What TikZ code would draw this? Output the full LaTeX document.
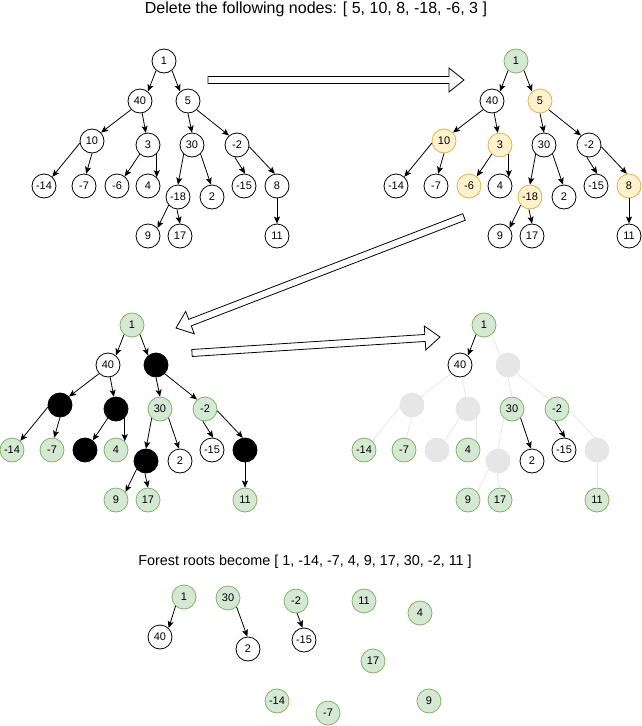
\documentclass[tikz,border=0pt]{standalone}
\usepackage{fontspec}
\setmainfont{Liberation Sans}
\usepackage{xcolor}
\usepackage{tikz}
\usetikzlibrary{arrows.meta, calc}
\definecolor{keepcolor}{HTML}{D5E8D4}
\definecolor{keepline}{HTML}{82B366}
\definecolor{delcolor}{HTML}{FFF2CC}
\definecolor{delline}{HTML}{D6B656}
\definecolor{gonecolor}{HTML}{E6E6E6}

% hollow block arrow from #1 (tail) to #2 (tip)
\newcommand{\fatarrow}[2]{%
    \coordinate (base) at ($(#2)!15pt!(#1)$);
    \draw[bigarrow] ($(#1)!3.5pt!90:(#2)$) -- ($(base)!3.5pt!90:(#2)$) -- ($(base)!12pt!90:(#2)$) -- (#2)
        -- ($(base)!12pt!-90:(#2)$) -- ($(base)!3.5pt!-90:(#2)$) -- ($(#1)!3.5pt!-90:(#2)$) -- cycle;
}

\begin{document}
\begin{tikzpicture}[
    x=1pt, y=-1pt,
    tnode/.style={circle, draw, line width=0.8pt, fill=white, minimum size=24pt, inner sep=0pt, font=\fontsize{11}{13}\selectfont},
    keep/.style={tnode, draw=keepline, fill=keepcolor},
    del/.style={tnode, draw=delline, fill=delcolor},
    cut/.style={tnode, draw=black, fill=black},
    gone/.style={tnode, draw=gonecolor, fill=gonecolor},
    link/.style={line width=0.8pt, -{Stealth[length=7pt, width=6pt, inset=1.5pt]}},
    ghost/.style={line width=0.8pt, draw=gonecolor},
    bigarrow/.style={draw, line width=0.8pt, fill=white, line join=miter}
]
    \useasboundingbox (0,0) rectangle (641,726);

    % Headings
    \node[font=\fontsize{16}{19}\selectfont] (title) at (316,9) {Delete the following nodes: [ 5, 10, 8, -18, -6, 3 ]};
    \node[font=\fontsize{14.4}{17}\selectfont] (result) at (305,562) {Forest roots become [ 1, -14, -7, 4, 9, 17, 30, -2, 11 ]};

    % Tree before deletion
    \node[tnode] (a1) at (164,61) {1};
    \node[tnode] (a40) at (140,101) {40};
    \node[tnode] (a5) at (188,101) {5};
    \node[tnode] (a10) at (92,141) {10};
    \node[tnode] (a3) at (148,145) {3};
    \node[tnode] (a30) at (192,145) {30};
    \node[tnode] (am2) at (237,145) {-2};
    \node[tnode] (am14) at (44,186) {-14};
    \node[tnode] (am7) at (84,186) {-7};
    \node[tnode] (am6) at (117,186) {-6};
    \node[tnode] (a4) at (148,186) {4};
    \node[tnode] (am18) at (178,197) {-18};
    \node[tnode] (a2) at (212,197) {2};
    \node[tnode] (am15) at (244,186) {-15};
    \node[tnode] (a8) at (277,186) {8};
    \node[tnode] (a9) at (148,236) {9};
    \node[tnode] (a17) at (180,236) {17};
    \node[tnode] (a11) at (277,236) {11};

    \draw[link] (a1.-130) -- (a40.50);
    \draw[link] (a1.-50) -- (a5.130);
    \draw[link] (a40.-136) -- (a10.43);
    \draw[link] (a40.-80) -- (a3.100);
    \draw[link] (a5.-90) -- (a30.90);
    \draw[link] (a5.-45) -- (am2.130);
    \draw[link] (a10.-170) -- (am14.48);
    \draw[link] (a10.-90) -- (am7.80);
    \draw[link] (a3.-132) -- (am6.51);
    \draw[link] (a3.-45) -- (a4.45);
    \draw[link] (a30.-132) -- (am18.90);
    \draw[link] (a30.-46) -- (a2.95);
    \draw[link] (am2.-100) -- (am15.85);
    \draw[link] (am2.-8) -- (a8.100);
    \draw[link] (am18.-139) -- (a9.40);
    \draw[link] (am18.-95) -- (a17.90);
    \draw[link] (a8.-90) -- (a11.90);

    % Marked nodes
    \begin{scope}[shift={(352,0)}]
    \node[keep] (b1) at (164,61) {1};
    \node[tnode] (b40) at (140,101) {40};
    \node[del] (b5) at (188,101) {5};
    \node[del] (b10) at (92,141) {10};
    \node[del] (b3) at (148,145) {3};
    \node[tnode] (b30) at (192,145) {30};
    \node[tnode] (bm2) at (237,145) {-2};
    \node[tnode] (bm14) at (44,186) {-14};
    \node[tnode] (bm7) at (84,186) {-7};
    \node[del] (bm6) at (117,186) {-6};
    \node[tnode] (b4) at (148,186) {4};
    \node[del] (bm18) at (178,197) {-18};
    \node[tnode] (b2) at (212,197) {2};
    \node[tnode] (bm15) at (244,186) {-15};
    \node[del] (b8) at (277,186) {8};
    \node[tnode] (b9) at (148,236) {9};
    \node[tnode] (b17) at (180,236) {17};
    \node[tnode] (b11) at (277,236) {11};
    \end{scope}

    \draw[link] (b1.-130) -- (b40.50);
    \draw[link] (b1.-50) -- (b5.130);
    \draw[link] (b40.-136) -- (b10.43);
    \draw[link] (b40.-80) -- (b3.100);
    \draw[link] (b5.-90) -- (b30.90);
    \draw[link] (b5.-45) -- (bm2.130);
    \draw[link] (b10.-170) -- (bm14.48);
    \draw[link] (b10.-90) -- (bm7.80);
    \draw[link] (b3.-132) -- (bm6.51);
    \draw[link] (b3.-45) -- (b4.45);
    \draw[link] (b30.-132) -- (bm18.90);
    \draw[link] (b30.-46) -- (b2.95);
    \draw[link] (bm2.-100) -- (bm15.85);
    \draw[link] (bm2.-8) -- (b8.100);
    \draw[link] (bm18.-139) -- (b9.40);
    \draw[link] (bm18.-95) -- (b17.90);
    \draw[link] (b8.-90) -- (b11.90);

    % Deleted nodes blacked out
    \begin{scope}[shift={(-32,264)}]
    \node[keep] (c1) at (164,61) {1};
    \node[tnode] (c40) at (140,101) {40};
    \node[cut] (c5) at (188,101) {};
    \node[cut] (c10) at (92,141) {};
    \node[cut] (c3) at (148,145) {};
    \node[keep] (c30) at (192,145) {30};
    \node[keep] (cm2) at (237,145) {-2};
    \node[keep] (cm14) at (44,186) {-14};
    \node[keep] (cm7) at (84,186) {-7};
    \node[cut] (cm6) at (117,186) {};
    \node[keep] (c4) at (148,186) {4};
    \node[cut] (cm18) at (178,197) {};
    \node[tnode] (c2) at (212,197) {2};
    \node[tnode] (cm15) at (244,186) {-15};
    \node[cut] (c8) at (277,186) {};
    \node[keep] (c9) at (148,236) {9};
    \node[keep] (c17) at (180,236) {17};
    \node[keep] (c11) at (277,236) {11};
    \end{scope}

    \draw[link] (c1.-130) -- (c40.50);
    \draw[link] (c1.-50) -- (c5.130);
    \draw[link] (c40.-136) -- (c10.43);
    \draw[link] (c40.-80) -- (c3.100);
    \draw[link] (c5.-90) -- (c30.90);
    \draw[link] (c5.-45) -- (cm2.130);
    \draw[link] (c10.-170) -- (cm14.48);
    \draw[link] (c10.-90) -- (cm7.80);
    \draw[link] (c3.-132) -- (cm6.51);
    \draw[link] (c3.-45) -- (c4.45);
    \draw[link] (c30.-132) -- (cm18.90);
    \draw[link] (c30.-46) -- (c2.95);
    \draw[link] (cm2.-100) -- (cm15.85);
    \draw[link] (cm2.-8) -- (c8.100);
    \draw[link] (cm18.-139) -- (c9.40);
    \draw[link] (cm18.-95) -- (c17.90);
    \draw[link] (c8.-90) -- (c11.90);

    % Links cut away
    \begin{scope}[shift={(320,264)}]
    \node[keep] (d1) at (164,61) {1};
    \node[tnode] (d40) at (140,101) {40};
    \node[gone] (d5) at (188,101) {};
    \node[gone] (d10) at (92,141) {};
    \node[gone] (d3) at (148,145) {};
    \node[keep] (d30) at (192,145) {30};
    \node[keep] (dm2) at (237,145) {-2};
    \node[keep] (dm14) at (44,186) {-14};
    \node[keep] (dm7) at (84,186) {-7};
    \node[gone] (dm6) at (117,186) {};
    \node[keep] (d4) at (148,186) {4};
    \node[gone] (dm18) at (178,197) {};
    \node[tnode] (d2) at (212,197) {2};
    \node[tnode] (dm15) at (244,186) {-15};
    \node[gone] (d8) at (277,186) {};
    \node[keep] (d9) at (148,236) {9};
    \node[keep] (d17) at (180,236) {17};
    \node[keep] (d11) at (277,236) {11};
    \end{scope}

    \draw[link] (d1.-130) -- (d40.50);
    \draw[ghost] (d1.-50) -- (d5.130);
    \draw[ghost] (d40.-136) -- (d10.43);
    \draw[ghost] (d40.-80) -- (d3.100);
    \draw[ghost] (d5.-90) -- (d30.90);
    \draw[ghost] (d5.-45) -- (dm2.130);
    \draw[ghost] (d10.-170) -- (dm14.48);
    \draw[ghost] (d10.-90) -- (dm7.80);
    \draw[ghost] (d3.-132) -- (dm6.51);
    \draw[ghost] (d3.-45) -- (d4.45);
    \draw[ghost] (d30.-132) -- (dm18.90);
    \draw[link] (d30.-46) -- (d2.95);
    \draw[link] (dm2.-100) -- (dm15.85);
    \draw[ghost] (dm2.-8) -- (d8.100);
    \draw[ghost] (dm18.-139) -- (d9.40);
    \draw[ghost] (dm18.-95) -- (d17.90);
    \draw[ghost] (d8.-90) -- (d11.90);

    % Forest
    \node[keep] (f1) at (184,597) {1};
    \node[tnode] (f40) at (160,637) {40};
    \node[keep] (f30) at (228,598) {30};
    \node[tnode] (f2) at (248,649) {2};
    \node[keep] (fm2) at (296,601) {-2};
    \node[tnode] (fm15) at (304,640) {-15};
    \node[keep] (f11) at (364,601) {11};
    \node[keep] (f4) at (420,613) {4};
    \node[keep] (f17) at (373,661) {17};
    \node[keep] (fm14) at (277,701) {-14};
    \node[keep] (fm7) at (328,713) {-7};
    \node[keep] (f9) at (429,701) {9};

    \draw[link] (f1.-133) -- (f40.46);
    \draw[link] (f30.-46) -- (f2.93);
    \draw[link] (fm2.-85) -- (fm15.97);

    % Step arrows
    \coordinate (stepAtail) at (208,80);
    \coordinate (stepAtip) at (464,80);
    \coordinate (stepBtail) at (464,217);
    \coordinate (stepBtip) at (176,328);
    \coordinate (stepCtail) at (192,353);
    \coordinate (stepCtip) at (440,337);
    \fatarrow{stepAtail}{stepAtip}
    \fatarrow{stepBtail}{stepBtip}
    \fatarrow{stepCtail}{stepCtip}
\end{tikzpicture}
\end{document}
